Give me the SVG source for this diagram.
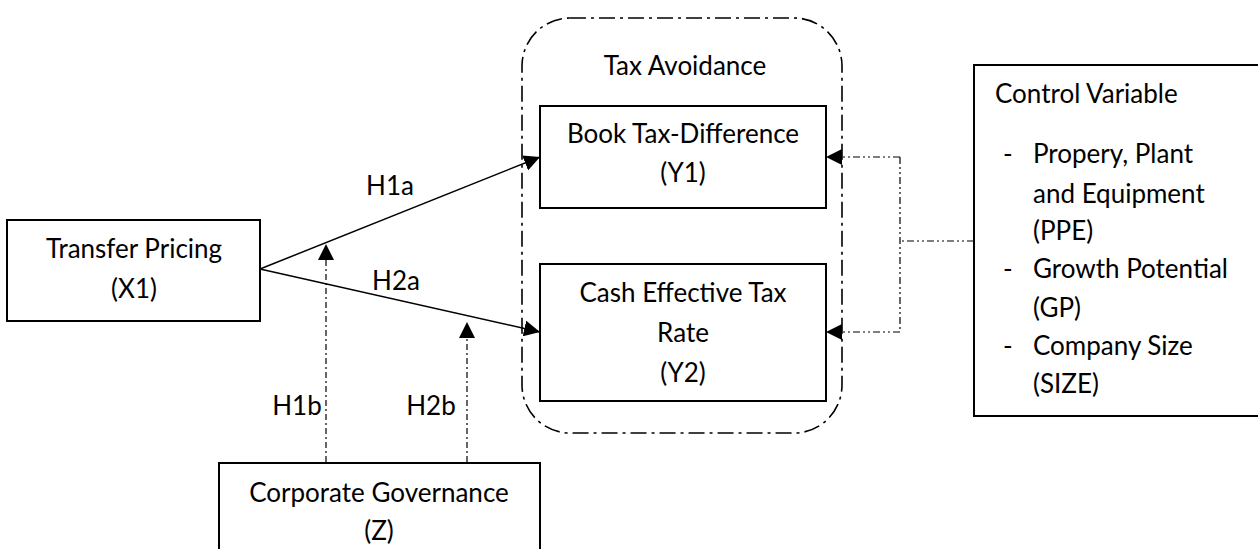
<svg xmlns="http://www.w3.org/2000/svg" width="1258" height="549" viewBox="0 0 1258 549">
<style>
text{font-family:Lato,"Open Sans","Liberation Sans",sans-serif;font-size:26px;fill:#000}
.c{text-anchor:middle}
.box{fill:#fff;stroke:#000;stroke-width:2}
.solid{fill:none;stroke:#000;stroke-width:1.5}
.dd{fill:none;stroke:#000;stroke-width:1.2;stroke-dasharray:6 3 2 3}
.ddd{fill:none;stroke:#000;stroke-width:1.2;stroke-dasharray:7 3 2 3 2 3}
.group{fill:none;stroke:#000;stroke-width:1.6;stroke-dasharray:16 5 3 5}
</style>
<defs>
<marker id="ah" viewBox="0 0 16 16" refX="16" refY="8" markerWidth="16" markerHeight="16" markerUnits="userSpaceOnUse" orient="auto">
<path d="M0,0 L16,8 L0,16 Z" fill="#000"/>
</marker>
</defs>
<g id="tax-avoidance">
<rect class="group" x="522" y="18" width="320" height="415" rx="48" ry="48"/>
<text class="c" x="685" y="75">Tax Avoidance</text>
</g>
<g id="book-tax">
<rect class="box" x="540" y="106" width="286" height="102"/>
<text class="c" x="683" y="143">Book Tax-Difference</text>
<text class="c" x="683" y="182">(Y1)</text>
</g>
<g id="cash-etr">
<rect class="box" x="540" y="264" width="286" height="137"/>
<text class="c" x="683" y="302">Cash Effective Tax</text>
<text class="c" x="683" y="342">Rate</text>
<text class="c" x="683" y="382">(Y2)</text>
</g>
<g id="transfer-pricing">
<rect class="box" x="7" y="220" width="253" height="101"/>
<text class="c" x="134" y="258">Transfer Pricing</text>
<text class="c" x="134" y="298">(X1)</text>
</g>
<g id="corporate-governance">
<rect class="box" x="219" y="463" width="321" height="100"/>
<text class="c" x="379" y="502">Corporate Governance</text>
<text class="c" x="379" y="540">(Z)</text>
</g>
<g id="control-variable">
<rect class="box" x="974" y="65" width="300" height="351"/>
<text x="995" y="103">Control Variable</text>
<text x="1003" y="163">-</text>
<text x="1033" y="163">Propery, Plant</text>
<text x="1033" y="203">and Equipment</text>
<text x="1033" y="240">(PPE)</text>
<text x="1003" y="278">-</text>
<text x="1033" y="278">Growth Potential</text>
<text x="1033" y="317">(GP)</text>
<text x="1003" y="355">-</text>
<text x="1033" y="355">Company Size</text>
<text x="1033" y="393">(SIZE)</text>
</g>
<g id="connectors">
<line class="solid" x1="260" y1="269" x2="540" y2="157" marker-end="url(#ah)"/>
<line class="solid" x1="260" y1="269" x2="540" y2="332" marker-end="url(#ah)"/>
<line class="dd" x1="326" y1="462" x2="326" y2="244" marker-end="url(#ah)"/>
<line class="dd" x1="467" y1="462" x2="467" y2="322" marker-end="url(#ah)"/>
<path class="ddd" d="M974,241 H900"/>
<path class="ddd" d="M900,157 V332"/>
<line class="ddd" x1="900" y1="157" x2="826" y2="157" marker-end="url(#ah)"/>
<line class="ddd" x1="900" y1="332" x2="826" y2="332" marker-end="url(#ah)"/>
<text class="c" x="390" y="195">H1a</text>
<text class="c" x="396" y="290">H2a</text>
<text class="c" x="297" y="415">H1b</text>
<text class="c" x="431" y="415">H2b</text>
</g>
</svg>
